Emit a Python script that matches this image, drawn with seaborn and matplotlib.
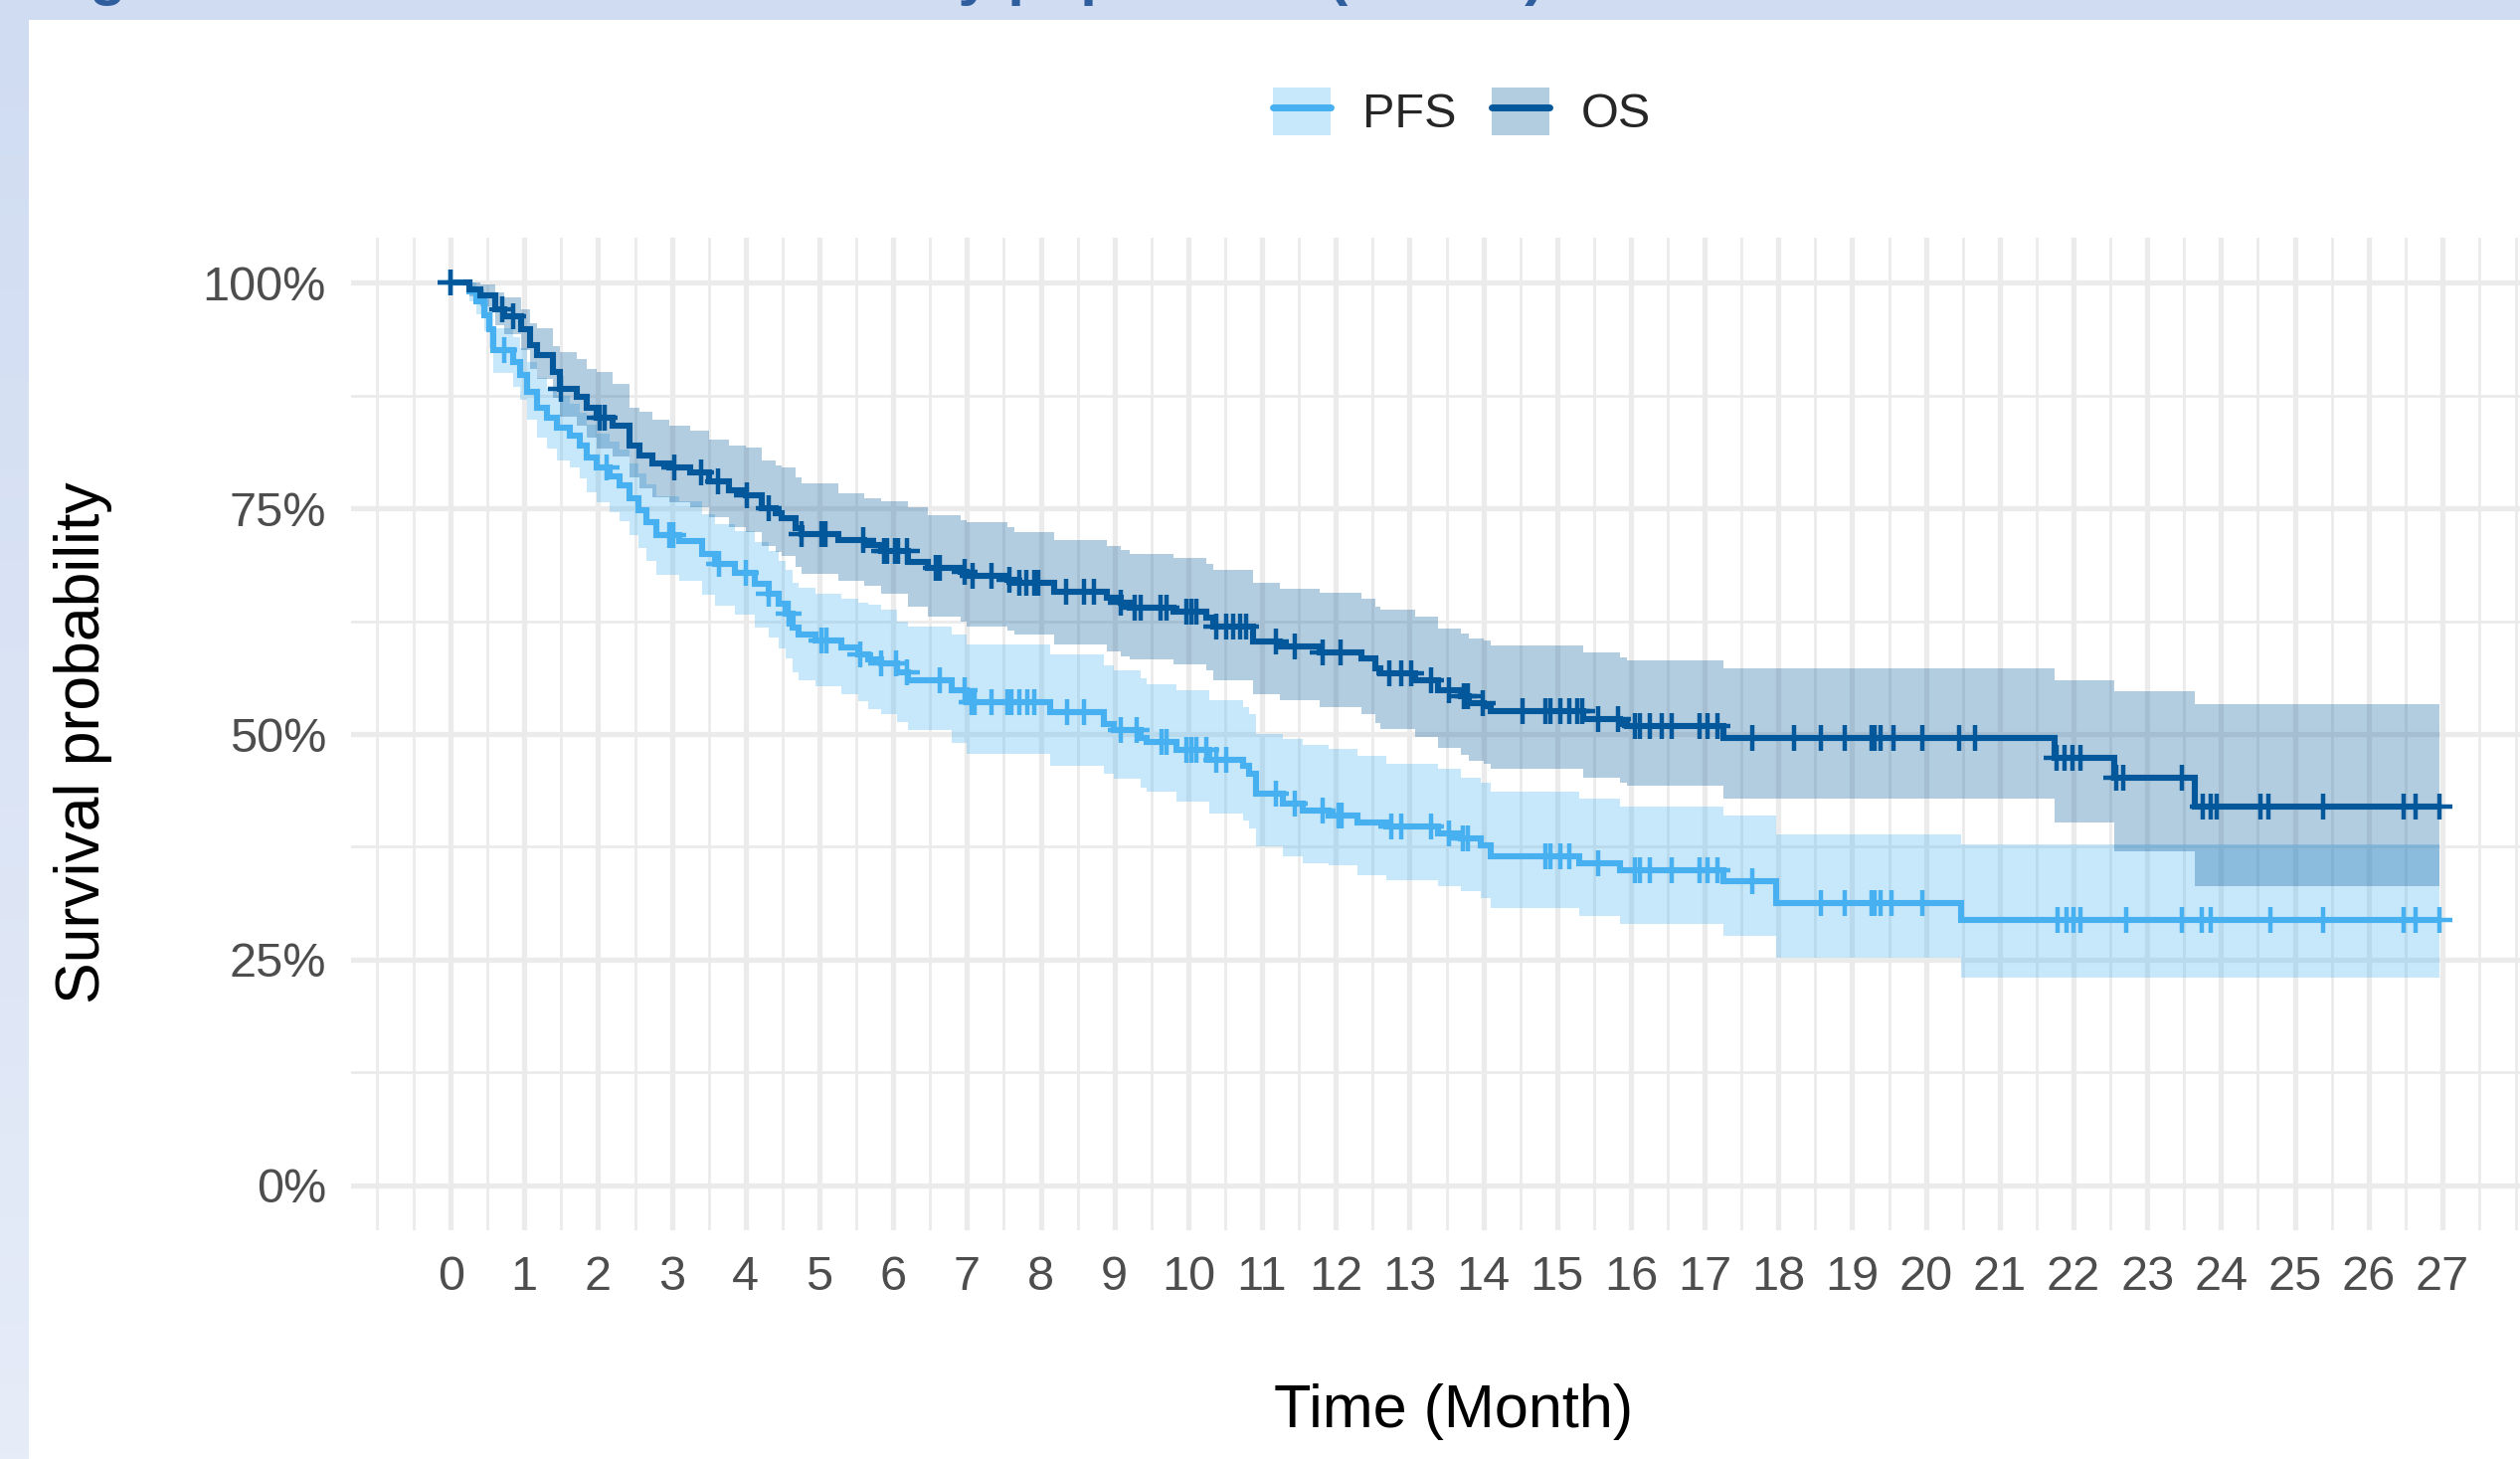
import matplotlib
matplotlib.use('Agg')
import matplotlib.pyplot as plt
import numpy as np
import pandas as pd
import seaborn as sns
from matplotlib.patches import Patch, Rectangle
from matplotlib.lines import Line2D
from matplotlib.legend_handler import HandlerTuple

# ---- data (Kaplan-Meier steps, 95% CI, censor times) ----
groups = ['PFS', 'OS']

pfs_time = [0.00, 0.25, 0.35, 0.45, 0.52, 0.58, 0.85, 0.94, 1.03, 1.17, 1.30, 1.44, 1.62, 1.75, 1.84,
            1.98, 2.15, 2.29, 2.43, 2.55, 2.65, 2.79, 3.10, 3.41, 3.59, 3.86, 4.13, 4.31, 4.45, 4.54,
            4.63, 4.72, 4.94, 5.30, 5.53, 5.66, 5.84, 6.05, 6.20, 6.79, 7.00, 8.13, 8.85, 8.99, 9.35,
            9.44, 9.84, 10.29, 10.74, 10.83, 10.92, 11.28, 11.55, 11.90, 12.30, 12.69, 13.38, 13.70,
            13.97, 14.10, 15.30, 15.85, 17.25, 17.97, 20.48, 26.96]
pfs_surv = [1.000, .990, .979, .964, .949, .925, .912, .898, .879, .861, .850, .839, .831, .820, .806,
            .795, .785, .776, .761, .748, .735, .720, .714, .699, .688, .679, .666, .655, .644, .633,
            .618, .610, .604, .596, .588, .583, .578, .568, .559, .548, .535, .524, .511, .504, .496,
            .491, .482, .471, .465, .456, .434, .423, .415, .410, .402, .398, .390, .384,
            .377, .364, .357, .349, .337, .313, .294, .294]
pfs_lower = [1.000, .980, .965, .946, .928, .900, .885, .870, .848, .828, .816, .803, .795, .783, .768,
             .757, .746, .736, .720, .706, .692, .676, .670, .654, .642, .632, .618, .607, .595, .584,
             .568, .560, .553, .544, .536, .528, .522, .513, .504, .490, .478, .465, .456, .450, .440,
             .436, .425, .412, .404, .395, .375, .364, .357, .355, .344, .338, .331, .326,
             .318, .307, .298, .289, .276, .252, .230, .230]
pfs_upper = [1.000, 1.000, .993, .982, .970, .950, .940, .928, .912, .895, .884, .875, .866, .856, .843,
             .833, .824, .815, .800, .789, .777, .763, .758, .744, .733, .725, .713, .703, .692, .682,
             .668, .662, .655, .650, .646, .643, .638, .625, .619, .610, .599, .588, .576, .570, .562,
             .555, .548, .537, .530, .522, .500, .494, .488, .484, .476, .467, .461, .452,
             .446, .436, .428, .419, .410, .389, .378, .378]
pfs_censor = [0.0, 0.72, 2.11, 2.96, 3.02, 3.64, 4.00, 4.31, 4.58, 5.03, 5.10, 5.55, 5.84, 6.04, 6.18,
              6.63, 6.97, 7.06, 7.10, 7.33, 7.55, 7.60, 7.71, 7.82, 7.91, 8.36, 8.58, 9.08, 9.30, 9.64,
              9.71, 9.98, 10.04, 10.11, 10.25, 10.38, 10.52, 11.19, 11.44, 11.82, 12.04, 12.08, 12.75,
              12.89, 13.29, 13.54, 13.72, 13.79, 14.84, 14.91, 15.05, 15.16, 15.56, 16.06, 16.12,
              16.26, 16.55, 16.93, 17.04, 17.18, 17.65, 18.57, 18.90, 19.27, 19.31, 19.38, 19.53,
              19.95, 21.78, 21.90, 22.00, 22.10, 22.72, 23.47, 23.74, 23.86, 24.67, 25.38, 26.47,
              26.64, 26.96]

os_time = [0.00, 0.25, 0.40, 0.60, 0.72, 0.95, 1.08, 1.17, 1.39, 1.48, 1.71, 1.84, 1.98, 2.20, 2.43,
           2.56, 2.74, 2.96, 3.25, 3.50, 3.77, 4.00, 4.22, 4.40, 4.49, 4.67, 4.76, 5.25, 5.60, 5.84,
           6.20, 6.47, 6.92, 7.00, 7.55, 7.64, 8.18, 8.90, 9.08, 9.20, 9.80, 10.25, 10.34, 10.88,
           11.24, 11.78, 12.35, 12.53, 12.60, 13.07, 13.38, 13.70, 13.80, 14.00, 14.10, 15.36, 15.85,
           15.95, 17.25, 21.74, 22.55, 23.64, 26.96]
os_surv = [1.000, .993, .986, .971, .963, .949, .931, .920, .901, .883, .874, .861, .850, .842, .820,
           .809, .800, .795, .790, .780, .770, .765, .750, .745, .739, .728, .721, .715, .709, .703,
           .691, .684, .680, .675, .671, .667, .658, .651, .645, .640, .636, .629, .619, .603,
           .597, .590, .584, .573, .567, .560, .549, .542, .534, .531, .525, .516, .511,
           .509, .496, .474, .451, .420, .420]
os_lower = [1.000, .985, .974, .953, .943, .925, .905, .893, .872, .852, .842, .828, .816, .807, .784,
            .772, .762, .757, .751, .740, .729, .724, .708, .702, .697, .685, .678, .670, .664, .655,
            .641, .630, .625, .619, .615, .610, .599, .592, .586, .583, .577, .570, .560, .544,
            .537, .530, .522, .512, .505, .497, .485, .477, .470, .467, .461, .452, .446,
            .443, .428, .402, .370, .331, .331]
os_upper = [1.000, 1.000, .998, .989, .984, .971, .955, .950, .930, .923, .916, .905, .901, .888, .861,
            .857, .848, .842, .836, .826, .820, .817, .803, .798, .795, .784, .778, .767, .761, .758,
            .751, .743, .737, .735, .729, .724, .715, .708, .704, .700, .695, .689, .682, .667,
            .661, .656, .650, .641, .638, .630, .617, .611, .606, .604, .598, .590, .585,
            .582, .573, .560, .547, .533, .533]
os_censor = [0.0, 0.70, 0.85, 1.50, 2.02, 2.09, 3.03, 3.39, 3.62, 4.02, 4.31, 4.76, 5.03, 5.08, 5.59,
             5.87, 5.91, 6.02, 6.07, 6.18, 6.58, 6.63, 6.97, 7.08, 7.33, 7.57, 7.71, 7.80, 7.91, 7.96,
             8.34, 8.58, 8.72, 9.09, 9.28, 9.35, 9.62, 9.71, 9.98, 10.04, 10.11, 10.38, 10.52, 10.61,
             10.70, 10.79, 11.19, 11.44, 11.82, 12.07, 12.73, 12.89, 13.02, 13.29, 13.54, 13.74,
             13.79, 13.99, 14.53, 14.84, 14.91, 15.05, 15.16, 15.27, 15.34, 15.56, 15.83, 16.06,
             16.12, 16.26, 16.42, 16.55, 16.93, 17.04, 17.18, 17.65, 18.21, 18.57, 18.90, 19.27,
             19.31, 19.38, 19.56, 19.95, 20.45, 20.66, 21.77, 21.88, 21.99, 22.10, 22.58, 22.68,
             23.47, 23.75, 23.86, 23.94, 24.54, 24.64, 25.38, 26.47, 26.64, 26.96]

x_ticks = list(range(0, 28))
x_tick_labels = [str(v) for v in x_ticks]
y_ticks = [0, 0.25, 0.50, 0.75, 1.00]
y_tick_labels = ['0%', '25%', '50%', '75%', '100%']

title_text = 'Figure 2. PFS and OS in the study population (N=320)'

colors = {'PFS': '#46B0F0', 'OS': '#03589B'}

sns.set_style('white')
plt.rcParams['font.family'] = ['Liberation Sans', 'DejaVu Sans']

W, H = 2534, 1467
fig = plt.figure(figsize=(W / 100, H / 100), dpi=100)
fig.patch.set_facecolor('white')

# slide frame (light blue band top + left, title cut at the top edge)
fig.patches.append(Rectangle((0, 1 - 20 / H), 1, 20 / H, transform=fig.transFigure,
                             facecolor='#D0DCF2', edgecolor='none', zorder=0))
band_ax = fig.add_axes([0, 0, 29 / W, 1 - 20 / H])
grad = np.linspace(0, 1, 256)[:, None, None]
top_c = np.array([208, 220, 242]) / 255
bot_c = np.array([230, 236, 248]) / 255
band_ax.imshow(top_c * (1 - grad) + bot_c * grad, aspect='auto', extent=[0, 1, 0, 1])
band_ax.axis('off')
fig.text(37 / W, 1 + 5.6 / H, title_text, ha='left', va='baseline', fontsize=43,
         fontweight='bold', color='#2F5E9E')

# main panel
ax = fig.add_axes([353 / W, 1 - 1237 / H, 2203 / W, 998 / H])

series = {
    'PFS': (pfs_time, pfs_surv, pfs_lower, pfs_upper, pfs_censor),
    'OS': (os_time, os_surv, os_lower, os_upper, os_censor),
}

for g in groups:
    t, s, lo, up, cens = series[g]
    ax.fill_between(t, lo, up, step='post', color=colors[g], alpha=0.3, lw=0, zorder=2)

for g in groups:
    t, s, lo, up, cens = series[g]
    df = pd.DataFrame({'time': t, 'surv': s})
    sns.lineplot(data=df, x='time', y='surv', drawstyle='steps-post', color=colors[g],
                 estimator=None, sort=False, ax=ax, zorder=3)
    ax.lines[-1].set_linewidth(4.4)
    ax.lines[-1].set_solid_joinstyle('miter')
    idx = np.searchsorted(np.array(t), np.array(cens), side='right') - 1
    cy = np.array(s)[idx]
    sns.scatterplot(x=cens, y=cy, marker='+', s=360, linewidth=3.2, color=colors[g],
                    ax=ax, zorder=4)

ax.set_xlim(-1.35, 28.35)
ax.set_ylim(-0.05, 1.05)
ax.set_xticks(x_ticks)
ax.set_xticklabels(x_tick_labels)
ax.set_xticks([-1, -0.5] + [v + 0.5 for v in x_ticks] + [28], minor=True)
ax.set_yticks(y_ticks)
ax.set_yticklabels(y_tick_labels)
ax.set_yticks([0.125, 0.375, 0.625, 0.875], minor=True)

ax.grid(True, which='major', color='#EBEBEB', linewidth=3.8)
ax.grid(True, which='minor', color='#EBEBEB', linewidth=2.0)
ax.set_axisbelow(True)
for sp in ax.spines.values():
    sp.set_visible(False)

ax.tick_params(which='major', length=10, width=2.5, color='black', labelsize=35,
               labelcolor='#4D4D4D', pad=8)
ax.tick_params(which='minor', length=0)

ax.set_xlabel('Time (Month)', fontsize=44, color='black')
ax.xaxis.set_label_coords((1462 - 353) / 2203, (1237 - 1419) / 998)
ax.xaxis.label.set_va('center')
ax.set_ylabel('Survival probability', fontsize=45, color='black')
ax.yaxis.set_label_coords((84 - 353) / 2203, (1237 - 747) / 998)
ax.yaxis.label.set_va('center')

handles = [(Patch(facecolor=colors[g], alpha=0.3, edgecolor='none'),
            Line2D([], [], color=colors[g], lw=5)) for g in groups]
fig.legend(handles, groups, loc='center', bbox_to_anchor=(1470 / W, 1 - 113 / H), ncol=2,
           frameon=False, fontsize=35, handler_map={tuple: HandlerTuple(ndivide=1, pad=0)},
           handlelength=1.2, handleheight=1.17, handletextpad=0.66, columnspacing=0.72)

fig.savefig('out.png', dpi=100)
